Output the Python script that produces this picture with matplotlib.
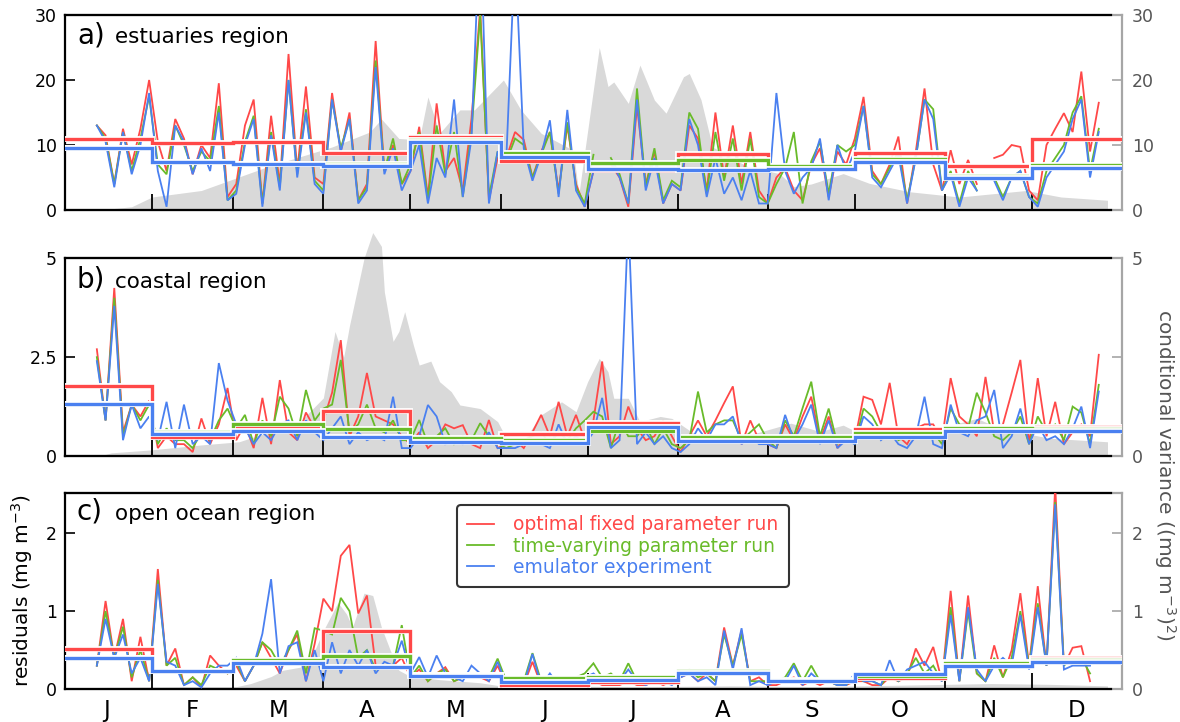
import numpy as np
import matplotlib
matplotlib.use('Agg')
import matplotlib.pyplot as plt
import matplotlib.patheffects as pe

nan = float('nan')

# ---------------- data ----------------
# sample days (day of year, 0 = 1 January)
DAYS = list(range(12, 358, 3))
MONTH_EDGES = [0, 31, 59, 90, 120, 151, 181, 212, 243, 273, 304, 334, 365]
MONTH_LABELS = ['J', 'F', 'M', 'A', 'M', 'J', 'J', 'A', 'S', 'O', 'N', 'D']
LEGEND_LABELS = ['optimal fixed parameter run', 'time-varying parameter run', 'emulator experiment']

# a) estuaries region
EST_RED = [13, 11.5, 4, 12.5, 7, 12.5, 20,
           10.5, 6, 14, 11, 5.5, 10, 8, 19.5, 2,
           4, 13, 17, 1, 14.5, 4, 24, 6, 19, 5,
           4, 18, 9, 15, 1.5, 4, 26, 6, 10, 4,
           6, 12.8, 2, 16.4, 6, 8, 3, 14, 31, 1.5, 8,
           8, 12, 10.8, 5, 9, 12, 3, 13, 4, 0.5,
           6, nan, 7, 5, 0.5, 16, 4, 9, 1, 4,
           3, 13, 11, 3, 15, 5, 13, 4, 12, 3,
           1, 5, 6.5, 3, 1.5, 7, 9.5, 2, 9, 7,
           11, 17.4, 6, 4, 7, 11.3, 1, 9, 18.7, 7, 3,
           9.2, 4, 7.7, 4, nan, 8, 8.5, 10, 9.7, 3,
           1.5, 10, 12.5, 14.9, 12, 21.3, 9, 16.5]
EST_GREEN = [13, 11, 4, 12, 6, 11, 17.5,
             7, 5.5, 13, 10, 6, 9, 7.5, 16, 1.5,
             3, 10.5, 14.5, 1, 12, 3.5, 20, 5.5, 15.5, 4.5,
             3, 17, 9.5, 14, 1.5, 3.5, 23, 6, 11, 4,
             7, 12, 1.5, 13, 5.5, 12, 2, 12, 30, 2, 9,
             7.5, 11, 10, 5, 8.5, 12, 2.5, 13.5, 3.5, 1,
             8.5, nan, 8, 5.5, 1, 18.7, 3.5, 9.5, 1.5, 4.5,
             3.5, 15, 12.5, 2.5, 12, 4.5, 11, 3, 11, 2,
             1, 4, 6.5, 12, 1, 7.5, 10.5, 2.5, 10, 9,
             10, 16, 5.5, 4, 6.5, 9, 1.5, 8, 17, 15.5, 3,
             6, 1, 6, 3, nan, 5, 2, 5, 6, 2,
             1, 6, 8, 10, 15, 17.5, 6, 12.5]
EST_BLUE = [13, 10.5, 3.5, 12, 5.5, 10, 18,
            6, 0.5, 13, 10.5, 5.5, 9.5, 6, 15, 1.5,
            2.5, 10, 14, 0.5, 11.5, 3, 20, 5, 15, 4,
            2.5, 17, 9, 14, 1, 3, 22, 5.5, 9.5, 3,
            6, 10, 1, 8, 5, 17, 2, 11, 45, 1, 9,
            8, 40, 9.5, 4.5, 8.5, 13.8, 2, 15.4, 3, 0.5,
            6, nan, 7.5, 5, 1, 17, 3, 8, 1, 4,
            3, 14, 10, 2, 8, 2.5, 5, 1.5, 6, 1,
            1, 18, 6, 2.5, 5, 6.5, 11, 1.5, 10, 6,
            9, 16, 5, 3.5, 6, 8.5, 1, 8, 17, 14, 3,
            5.5, 0.5, 5, 3, nan, 4.5, 1.5, 5, 6, 2,
            0.5, 5, 7, 9, 14, 17, 5, 12]
EST_RED_M = [10.9, 10.3, 10.5, 8.7, 11.2, 7.5, 6.2, 8.6, 6.6, 8.7, 6.7, 10.9]
EST_GREEN_M = [9.5, 7.4, 7.1, 7.1, 10.8, 8.8, 7.3, 7.7, 6.7, 7.8, 5.3, 7.0]
EST_BLUE_M = [9.5, 7.4, 7.1, 6.8, 10.5, 8.2, 6.3, 6.2, 6.3, 7.4, 5.0, 6.4]
EST_VAR_DAYS = [13, 24, 31, 48, 71, 93, 106, 110, 116, 123, 126, 130, 137, 142, 152, 158, 165, 176,
                178, 180, 185, 188, 190, 195, 199, 204, 208, 214, 216, 220, 224, 236, 247, 252,
                258, 269, 278, 292, 309, 332, 344, 360]
EST_VAR = [0, 0.5, 2, 3, 6.7, 9.7, 12, 14, 11, 10.8, 17.4, 11.8, 15.4, 15.4, 20, 15.4, 11.8, 9.2,
           2.5, 9, 25, 19, 19.7, 16.4, 22.3, 16.9, 14.9, 20.5, 21, 17, 9.7, 6.7, 5.6, 3.6,
           4, 5.6, 4.1, 2.8, 2, 3, 2, 1.5]

# b) coastal region
COAST_RED = [2.7, 0.9, 4.25, 0.6, 1.3, 1.0, 1.4,
             0.2, 0.5, 0.3, 0.3, 0.1, 0.95, 0.3, 0.8, 1.72,
             0.4, 0.8, 0.2, 1.47, 0.3, 1.92, 0.6, 0.4, 1.1, 0.7,
             0.9, 1.6, 2.93, 0.5, 1.0, 2.1, 1.0, 0.9, 0.8, 0.5,
             0.3, 0.6, 0.2, 0.4, 0.8, 0.7, 0.78, 0.3, 0.2, 0.91, 0.2,
             0.3, 0.4, 0.2, 0.6, 1.04, 0.5, 1.37, 0.5, 1.04, 0.4,
             0.9, 2.39, 0.3, 0.5, 1.25, 0.7, 0.4, 0.5, 0.9, 0.5,
             0.1, 0.5, 0.9, 0.5, 0.9, 1.34, 1.76, 0.3, 0.9, 0.4,
             0.3, 0.2, 0.8, 0.4, 1.0, 1.5, 0.4, 1.0, 0.2, 0.5,
             0.4, 1.5, 1.42, 0.8, 1.85, 0.5, 0.3, 0.7, 0.8, 0.8, 0.4,
             1.97, 1.0, 0.8, 0.5, 2.0, 0.6, 0.8, 1.6, 2.43, 0.3,
             1.97, 0.5, 1.37, 0.3, 0.6, 0.8, 0.5, 2.56]
COAST_GREEN = [2.5, 0.9, 4.0, 0.5, 1.3, 0.9, 1.3,
               0.3, 0.7, 0.4, 0.4, 0.2, 0.6, 0.4, 0.9, 1.2,
               0.7, 1.04, 0.3, 0.9, 0.5, 1.5, 1.2, 0.5, 1.67, 0.9,
               1.2, 1.3, 2.43, 0.6, 0.8, 1.3, 0.7, 0.6, 0.9, 0.4,
               0.4, 0.91, 0.3, 0.5, 0.7, 0.3, 0.5, 0.4, 0.83, 0.5, 0.3,
               0.2, 0.3, 0.4, 0.5, 0.6, 0.3, 0.6, 0.4, 0.7, 0.9,
               1.12, 1.0, 0.2, 0.9, 0.5, 0.5, 0.8, 0.3, 0.7, 0.3,
               0.2, 0.4, 1.63, 0.6, 0.8, 0.9, 0.9, 0.4, 0.6, 0.8,
               0.4, 0.2, 0.9, 0.5, 1.21, 1.88, 0.5, 1.2, 0.3, 0.5,
               0.3, 1.2, 1.0, 0.6, 0.7, 0.4, 0.5, 0.6, 0.7, 0.6, 0.3,
               1.2, 0.8, 0.7, 1.6, 1.1, 0.5, 0.4, 0.6, 1.0, 0.3,
               1.0, 0.6, 0.8, 0.4, 1.25, 1.1, 0.3, 1.8]
COAST_BLUE = [2.4, 0.9, 3.8, 0.4, 1.3, 0.7, 1.0,
              0.4, 1.37, 0.2, 1.3, 0.3, 0.5, 0.3, 2.35, 1.4,
              0.8, 0.7, 0.3, 0.6, 0.4, 0.8, 0.9, 0.4, 0.9, 0.6,
              0.4, 0.7, 1.0, 0.3, 0.6, 0.4, 0.5, 0.4, 1.5, 0.2,
              0.2, 0.5, 1.29, 1.0, 0.3, 0.4, 0.3, 0.5, 0.3, 0.6, 0.2,
              0.2, 0.2, 0.3, 0.4, 0.3, 0.2, 0.8, 0.3, 0.5, 0.3,
              0.6, 1.47, 0.2, 0.4, 6.0, 0.3, 0.6, 0.3, 0.5, 0.2,
              0.1, 0.3, 0.7, 0.4, 0.8, 0.8, 1.0, 0.3, 0.5, 0.3,
              0.3, 0.2, 1.04, 0.4, 0.8, 1.3, 0.3, 0.9, 0.2, 0.4,
              0.3, 1.0, 0.8, 0.4, 0.6, 0.3, 0.2, 0.5, 1.5, 0.3, 0.2,
              1.3, 0.6, 0.5, 0.9, 1.0, 1.67, 0.2, 0.5, 1.2, 0.3,
              0.8, 0.4, 0.5, 0.3, 0.7, 1.25, 0.2, 1.63]
COAST_RED_M = [1.78, 0.49, 0.74, 1.14, 0.42, 0.55, 0.84, 0.45, 0.42, 0.68, 0.74, 0.74]
COAST_GREEN_M = [1.32, 0.60, 0.80, 0.68, 0.45, 0.40, 0.64, 0.49, 0.47, 0.57, 0.70, 0.69]
COAST_BLUE_M = [1.32, 0.55, 0.62, 0.49, 0.36, 0.32, 0.73, 0.38, 0.39, 0.49, 0.63, 0.62]
COAST_VAR_DAYS = [13, 17, 30, 48, 61, 71, 82, 90, 94, 97, 99, 104, 107, 110, 111, 114, 116, 118,
                  121, 123, 127, 130, 134, 137, 144, 150, 153, 158, 165, 172, 177, 181, 185, 188,
                  190, 195, 199, 206, 210, 215, 220, 229, 240, 251, 261, 269, 278, 289, 302, 315,
                  323, 340, 360]
COAST_VAR = [0, 0.08, 0.15, 0.28, 0.36, 0.6, 0.87, 1.47, 3.15, 2.5, 3.3, 5.0, 5.65, 5.3, 4.15, 2.9,
             3.15, 3.65, 2.8, 2.3, 2.4, 1.88, 1.63, 1.29, 1.2, 0.87, 0.45, 0.28, 1.04, 1.37, 1.12,
             1.88, 2.47, 2.13, 1.46, 1.46, 0.87, 1.0, 0.95, 0.7, 0.45, 0.45, 0.6, 0.83, 0.62, 0.78,
             0.45, 0.45, 0.7, 0.95, 0.7, 0.45, 0.36]

# c) open ocean region
OCEAN_RED = [0.3, 1.13, 0.4, 0.9, 0.1, 0.67, 0.1,
             1.54, 0.3, 0.52, 0.05, 0.15, 0.02, 0.43, 0.3, 0.2,
             0.3, 0.1, 0.3, 0.6, 0.4, 0.2, 0.5, 0.7, 0.1, 0.58,
             1.16, 1.0, 1.71, 1.85, 0.97, 1.2, 0.3, 0.3, 0.3, 0.4,
             0.15, 0.25, 0.1, 0.2, 0.28, 0.1, 0.15, 0.2, 0.15, 0.1, 0.3,
             0.05, 0.05, 0.05, 0.35, 0.05, 0.1, 0.05, 0.05, 0.05, 0.1,
             0.1, 0.05, 0.05, 0.05, 0.1, 0.05, 0.05, 0.1, 0.05, 0.1,
             0.15, 0.2, 0.1, 0.2, 0.1, 0.79, 0.3, 0.75, 0.1, 0.15,
             0.05, 0.05, 0.1, 0.15, 0.05, 0.1, 0.05, 0.1, 0.05, 0.05,
             0.1, 0.1, 0.05, 0.05, 0.15, 0.1, 0.15, 0.52, 0.3, 0.54, 0.1,
             1.26, 0.1, 1.2, 0.2, 0.1, 0.56, 0.15, 0.5, 1.23, 0.3,
             1.32, 0.3, 2.6, 0.3, 0.53, 0.55, 0.1, nan]
OCEAN_GREEN = [0.3, 1.0, 0.4, 0.8, 0.15, 0.5, 0.1,
               1.4, 0.3, 0.4, 0.05, 0.15, 0.05, 0.3, 0.25, 0.2,
               0.35, 0.1, 0.3, 0.6, 0.5, 0.3, 0.5, 0.75, 0.2, 0.78,
               0.75, 0.7, 1.17, 1.0, 0.4, 0.5, 0.25, 0.3, 0.3, 0.82,
               0.15, 0.3, 0.1, 0.2, 0.25, 0.1, 0.15, 0.2, 0.2, 0.15, 0.39,
               0.1, 0.1, 0.1, 0.46, 0.1, 0.15, 0.1, 0.1, 0.15, 0.2,
               0.33, 0.15, 0.2, 0.1, 0.33, 0.1, 0.1, 0.15, 0.15, 0.1,
               0.2, 0.25, 0.15, 0.2, 0.1, 0.7, 0.3, 0.7, 0.1, 0.1,
               0.1, 0.1, 0.15, 0.33, 0.1, 0.3, 0.1, 0.1, 0.05, 0.05,
               0.15, 0.1, 0.1, 0.05, 0.2, 0.1, 0.2, 0.4, 0.2, 0.3, 0.1,
               1.05, 0.1, 1.0, 0.2, 0.1, 0.4, 0.15, 0.4, 1.0, 0.3,
               1.1, 0.3, 2.4, 0.3, 0.4, 0.4, 0.2, nan]
OCEAN_BLUE = [0.3, 0.9, 0.4, 0.7, 0.2, 0.4, 0.1,
              1.35, 0.35, 0.3, 0.05, 0.1, 0.02, 0.2, 0.3, 0.3,
              0.4, 0.1, 0.3, 0.71, 1.41, 0.2, 0.55, 0.6, 0.1, 0.5,
              0.1, 0.6, 0.2, 0.5, 0.3, 0.5, 0.2, 0.35, 0.3, 0.62,
              0.2, 0.41, 0.15, 0.43, 0.2, 0.15, 0.1, 0.3, 0.2, 0.1, 0.35,
              0.05, 0.1, 0.05, 0.45, 0.05, 0.2, 0.05, 0.05, 0.1, 0.15,
              0.2, 0.1, 0.15, 0.1, 0.25, 0.1, 0.05, 0.1, 0.1, 0.05,
              0.15, 0.2, 0.1, 0.15, 0.05, 0.75, 0.25, 0.78, 0.05, 0.1,
              0.05, 0.1, 0.1, 0.3, 0.05, 0.2, 0.1, 0.1, 0.05, 0.05,
              0.2, 0.1, 0.1, 0.05, 0.37, 0.1, 0.25, 0.3, 0.35, 0.2, 0.1,
              0.95, 0.1, 1.05, 0.25, 0.1, 0.3, 0.4, 0.3, 0.95, 0.25,
              1.05, 0.3, 2.37, 0.25, 0.3, 0.3, 0.3, nan]
OCEAN_RED_M = [0.51, 0.23, 0.35, 0.75, 0.18, 0.05, 0.09, 0.22, 0.10, 0.14, 0.35, 0.40]
OCEAN_GREEN_M = [0.40, 0.23, 0.37, 0.43, 0.18, 0.14, 0.15, 0.23, 0.12, 0.17, 0.33, 0.37]
OCEAN_BLUE_M = [0.40, 0.23, 0.33, 0.28, 0.17, 0.09, 0.12, 0.21, 0.10, 0.19, 0.29, 0.35]
OCEAN_VAR_DAYS = [10, 13, 40, 60, 65, 72, 76, 82, 86, 90, 95, 98, 100, 104, 107, 110, 113, 116,
                  120, 130, 144, 151, 200, 230, 260, 290, 320, 340, 360]
OCEAN_VAR = [0, 0.02, 0.03, 0.03, 0.07, 0.16, 0.24, 0.28, 0.41, 0.75, 1.11, 0.96, 0.79, 1.23,
             1.2, 0.79, 0.5, 0.24, 0.16, 0.12, 0.08, 0.04, 0.03, 0.04, 0.03, 0.05, 0.07, 0.06, 0.04]

# ---------------- style ----------------
RED = '#ff4848'
GREEN = '#69bb2a'
BLUE = '#4a80f0'
VARGRAY = '#d9d9d9'
RGRAY = '#a6a6a6'
RTEXT = '#555555'

W, H = 1180, 722
XMIN, XMAX, XEND = 0.86, 365.0, 361.2
LEFT, RIGHT = 64.5, 1122.0

fig = plt.figure(figsize=(W / 100, H / 100), dpi=100)


def rect(top, bottom):
    return [LEFT / W, (H - bottom) / H, (RIGHT - LEFT) / W, (bottom - top) / H]


panels = [
    dict(box=(15, 210), ylim=(0, 30), yt=[0, 10, 20, 30], ytl=['0', '10', '20', '30'],
         rtl=['0', '10', '20', '30'],
         tag='a)', name='estuaries region', tagy=0.856,
         series=(EST_RED, EST_GREEN, EST_BLUE), means=(EST_RED_M, EST_GREEN_M, EST_BLUE_M),
         var=(EST_VAR_DAYS, EST_VAR), clipvar=True),
    dict(box=(258.3, 456), ylim=(0, 5), yt=[0, 2.5, 5], ytl=['0', '2.5', '5'],
         rtl=['0', '', '5'],
         tag='b)', name='coastal region', tagy=0.851,
         series=(COAST_RED, COAST_GREEN, COAST_BLUE), means=(COAST_RED_M, COAST_GREEN_M, COAST_BLUE_M),
         var=(COAST_VAR_DAYS, COAST_VAR), clipvar=False),
    dict(box=(492.7, 689), ylim=(0, 2.52), yt=[0, 1, 2], ytl=['0', '1', '2'],
         rtl=['0', '1', '2'],
         tag='c)', name='open ocean region', tagy=0.861,
         series=(OCEAN_RED, OCEAN_GREEN, OCEAN_BLUE), means=(OCEAN_RED_M, OCEAN_GREEN_M, OCEAN_BLUE_M),
         var=(OCEAN_VAR_DAYS, OCEAN_VAR), clipvar=True),
]

colors = [RED, GREEN, BLUE]
mids = [(a + b) / 2 for a, b in zip(MONTH_EDGES[:-1], MONTH_EDGES[1:])]

for k, p in enumerate(panels):
    ax = fig.add_axes(rect(*p['box']))
    tw = ax.twinx()
    ax.set_zorder(tw.get_zorder() + 1)
    ax.patch.set_visible(False)

    # conditional variance (right axis)
    tw.fill_between(p['var'][0], 0, p['var'][1], color=VARGRAY, lw=0, clip_on=p['clipvar'])
    tw.set_ylim(*p['ylim'])
    tw.set_yticks(p['yt'])
    tw.set_yticklabels(p['rtl'])
    tw.tick_params(axis='y', direction='in', length=7, width=1.2, color=RGRAY,
                   labelcolor=RTEXT, labelsize=12.5, pad=7)
    tw.spines['left'].set_visible(False)
    for s in ('top', 'bottom', 'right'):
        tw.spines[s].set_color(RGRAY)
        tw.spines[s].set_linewidth(1.6)

    # residual series
    handles = []
    for vals, c in zip(p['series'], colors):
        h, = ax.plot(DAYS, vals, color=c, lw=1.3, solid_joinstyle='miter', zorder=3)
        handles.append(h)
    for vals, c in zip(p['means'], colors):
        ax.stairs(vals, MONTH_EDGES, baseline=None, color=c, lw=2.4, zorder=4,
                  path_effects=[pe.Stroke(linewidth=4.2, foreground='white'), pe.Normal()])

    ax.set_xlim(XMIN, XMAX)
    ax.set_ylim(*p['ylim'])
    ax.set_yticks(p['yt'])
    ax.set_yticklabels(p['ytl'])
    ax.tick_params(axis='y', direction='in', length=7, width=1.2, labelsize=12.5, pad=5.5,
                   right=False)
    ax.set_xticks(MONTH_EDGES[1:-1])
    ax.tick_params(axis='x', which='major', direction='in', length=11.5, width=1.3,
                   labelbottom=False, top=False)
    if k == 2:
        ax.set_xticks(mids, minor=True)
        ax.set_xticklabels(MONTH_LABELS, minor=True)
        ax.tick_params(axis='x', which='minor', length=0, pad=7, labelsize=16.5)
    ax.spines['right'].set_visible(False)
    for s in ('left', 'top', 'bottom'):
        ax.spines[s].set_color('black')
        ax.spines[s].set_linewidth(1.6)
    ax.spines['top'].set_bounds(XMIN, XEND)
    ax.spines['bottom'].set_bounds(XMIN, XEND)

    ax.text(0.0118, p['tagy'], p['tag'], transform=ax.transAxes, fontsize=20, va='baseline')
    ax.text(0.0478, p['tagy'], p['name'], transform=ax.transAxes, fontsize=15.5, va='baseline')

    if k == 2:
        leg = ax.legend(handles, LEGEND_LABELS, loc='upper left', bbox_to_anchor=(0.371, 0.937),
                        borderaxespad=0, fontsize=13.5, frameon=True, fancybox=True,
                        edgecolor='#333333', framealpha=1, handlelength=1.45, handletextpad=1.0,
                        labelspacing=0.12, borderpad=0.55)
        leg.get_frame().set_linewidth(1.5)
        for t, c in zip(leg.get_texts(), colors):
            t.set_color(c)
        leg.set_zorder(10)

fig.text(22 / W, 1 - 590.5 / H, 'residuals (mg m$^{-3}$)', rotation=90, ha='center', va='center',
         fontsize=14.5)
fig.text(1165 / W, 1 - 474.5 / H, 'conditional variance ((mg m$^{-3}$)$^2$)', rotation=270,
         ha='center', va='center', fontsize=14.5, color=RTEXT)

fig.savefig('out.png', dpi=100, facecolor='white')
